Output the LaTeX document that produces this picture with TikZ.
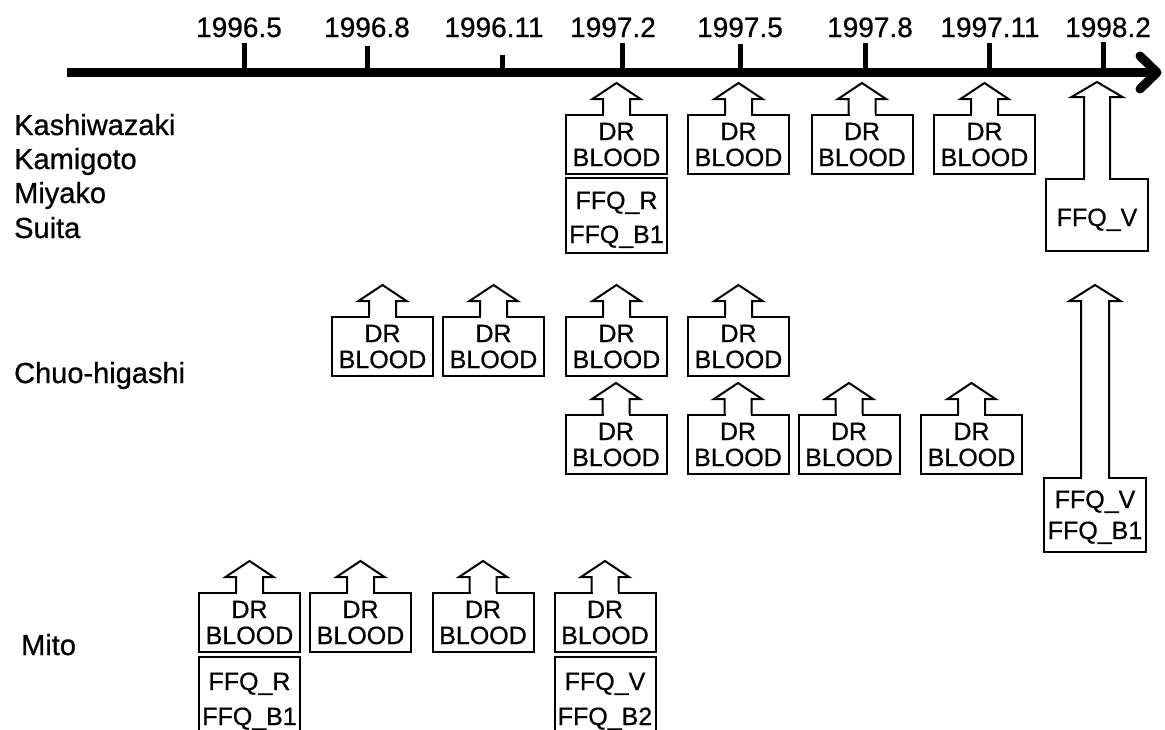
\documentclass[tikz,border=0pt]{standalone}
\usepackage{fontspec}
\setmainfont{Liberation Sans}[FakeBold=0.7,BoldFont=Liberation Sans]
\begin{document}
\begin{tikzpicture}[x=1pt,y=-1pt,
  bx/.style={draw,line width=2pt,minimum width=101pt,inner sep=0pt,fill=white},
  txt/.style={font=\fontsize{25}{26}\selectfont\bfseries,inner sep=0pt},
  rowlbl/.style={font=\fontsize{29}{30}\selectfont\bfseries,inner sep=0pt,anchor=base west},
  yrlbl/.style={font=\fontsize{28}{30}\selectfont\bfseries,inner sep=0pt,anchor=base},
  arr/.style={line width=2pt,line join=miter},
  tickline/.style={line width=5pt},
  axisline/.style={line width=9pt}]
\clip (0,0) rectangle (1165,729);
\fill[white] (0,0) rectangle (1165,729);

\newcommand\drbox[3]{%
 \node[bx,minimum height=59pt] (#1) at (#2,#3+29.5) {};
 \node[txt,anchor=base] (#1-a) at (#2,#3+25) {DR};
 \node[txt,anchor=base] (#1-b) at (#2,#3+51) {BLOOD};
 \fill[white] ([xshift=-12.5pt,yshift=-1.5pt]#1.north) rectangle ([xshift=12.5pt,yshift=1.5pt]#1.north);
 \draw[arr] ([xshift=-13.5pt]#1.north) -- ++(0,-15) -- ++(-10.5,0) -- ([yshift=31pt]#1.north) -- ++(24,16) -- ++(-10.5,0) -- ++(0,15);
}

% axis
\coordinate (a0) at (67,72.5);
\coordinate (a1) at (1157,72.5);
\draw[axisline] (a0) -- (a1);
\draw[axisline,line cap=round,line join=round] (1140,56) -- (a1) -- (1140,89);

\foreach \i/\lx/\tx/\tt/\lab in {1/239/244/43/1996.5, 2/367/367/46/1996.8, 3/494/502/55/1996.11, 4/613/622/43/1997.2, 5/740/740/44/1997.5, 6/870/865/43/1997.8, 7/990/989/43/1997.11, 8/1108/1103/42/1998.2}{
  \node[yrlbl] (yr\i) at (\lx,37) {\lab};
  \coordinate (tk\i) at (\tx,72);
  \draw[tickline] (tk\i) -- (\tx,\tt);
}

% row labels
\node[rowlbl] (r1) at (14,135) {Kashiwazaki};
\node[rowlbl] (r2) at (14,169) {Kamigoto};
\node[rowlbl] (r3) at (14,203) {Miyako};
\node[rowlbl] (r4) at (14,238) {Suita};
\node[rowlbl] (r5) at (14,383) {Chuo-higashi};
\node[rowlbl] (r6) at (21,655) {Mito};

% first group
\drbox{k1}{616.5}{115}
\drbox{k2}{738.5}{115}
\drbox{k3}{862}{115}
\drbox{k4}{984.5}{115}
\node[bx,minimum height=75pt] (kf) at (616.5,215.5) {};
\node[txt,anchor=base] (kf-a) at (616.5,209) {FFQ\_R};
\node[txt,anchor=base] (kf-b) at (616.5,243) {FFQ\_B1};

% tall arrow 1
\node[bx,minimum width=102pt,minimum height=72pt] (kv) at (1097,215) {};
\node[txt,anchor=base] (kv-a) at (1097,226) {FFQ\_V};
\fill[white] ([xshift=-12pt,yshift=-1.5pt]kv.north) rectangle ([xshift=12pt,yshift=1.5pt]kv.north);
\draw[arr] ([xshift=-13pt]kv.north) -- ++(0,-81) -- ++(-12.5,0) -- ([yshift=96pt]kv.north) -- ++(25.5,15) -- ++(-12.5,0) -- ++(0,81);

% Chuo-higashi
\drbox{c1}{382.5}{317}
\drbox{c2}{493.5}{317}
\drbox{c3}{616.5}{317}
\drbox{c4}{738.5}{317}
\drbox{c5}{616}{415}
\drbox{c6}{738}{415}
\drbox{c7}{849}{415}
\drbox{c8}{971.5}{415}

\node[bx,minimum width=102pt,minimum height=74pt] (cv) at (1095,515) {};
\node[txt,anchor=base] (cv-a) at (1095,508) {FFQ\_V};
\node[txt,anchor=base] (cv-b) at (1095,539) {FFQ\_B1};
\fill[white] ([xshift=-13pt,yshift=-1.5pt]cv.north) rectangle ([xshift=13pt,yshift=1.5pt]cv.north);
\draw[arr] ([xshift=-14pt]cv.north) -- ++(0,-176) -- ++(-11.5,0) -- ([yshift=192pt]cv.north) -- ++(25.5,16) -- ++(-11.5,0) -- ++(0,176);

% Mito
\drbox{m1}{249.5}{593}
\drbox{m2}{360.5}{593}
\drbox{m3}{483}{593}
\drbox{m4}{605}{593}
\node[bx,minimum height=103pt] (m1f) at (249.5,708.5) {};
\node[txt,anchor=base] (m1f-a) at (249.5,690) {FFQ\_R};
\node[txt,anchor=base] (m1f-b) at (249.5,725) {FFQ\_B1};
\node[bx,minimum height=103pt] (m4f) at (605,708.5) {};
\node[txt,anchor=base] (m4f-a) at (605,690) {FFQ\_V};
\node[txt,anchor=base] (m4f-b) at (605,725) {FFQ\_B2};
\end{tikzpicture}
\end{document}
